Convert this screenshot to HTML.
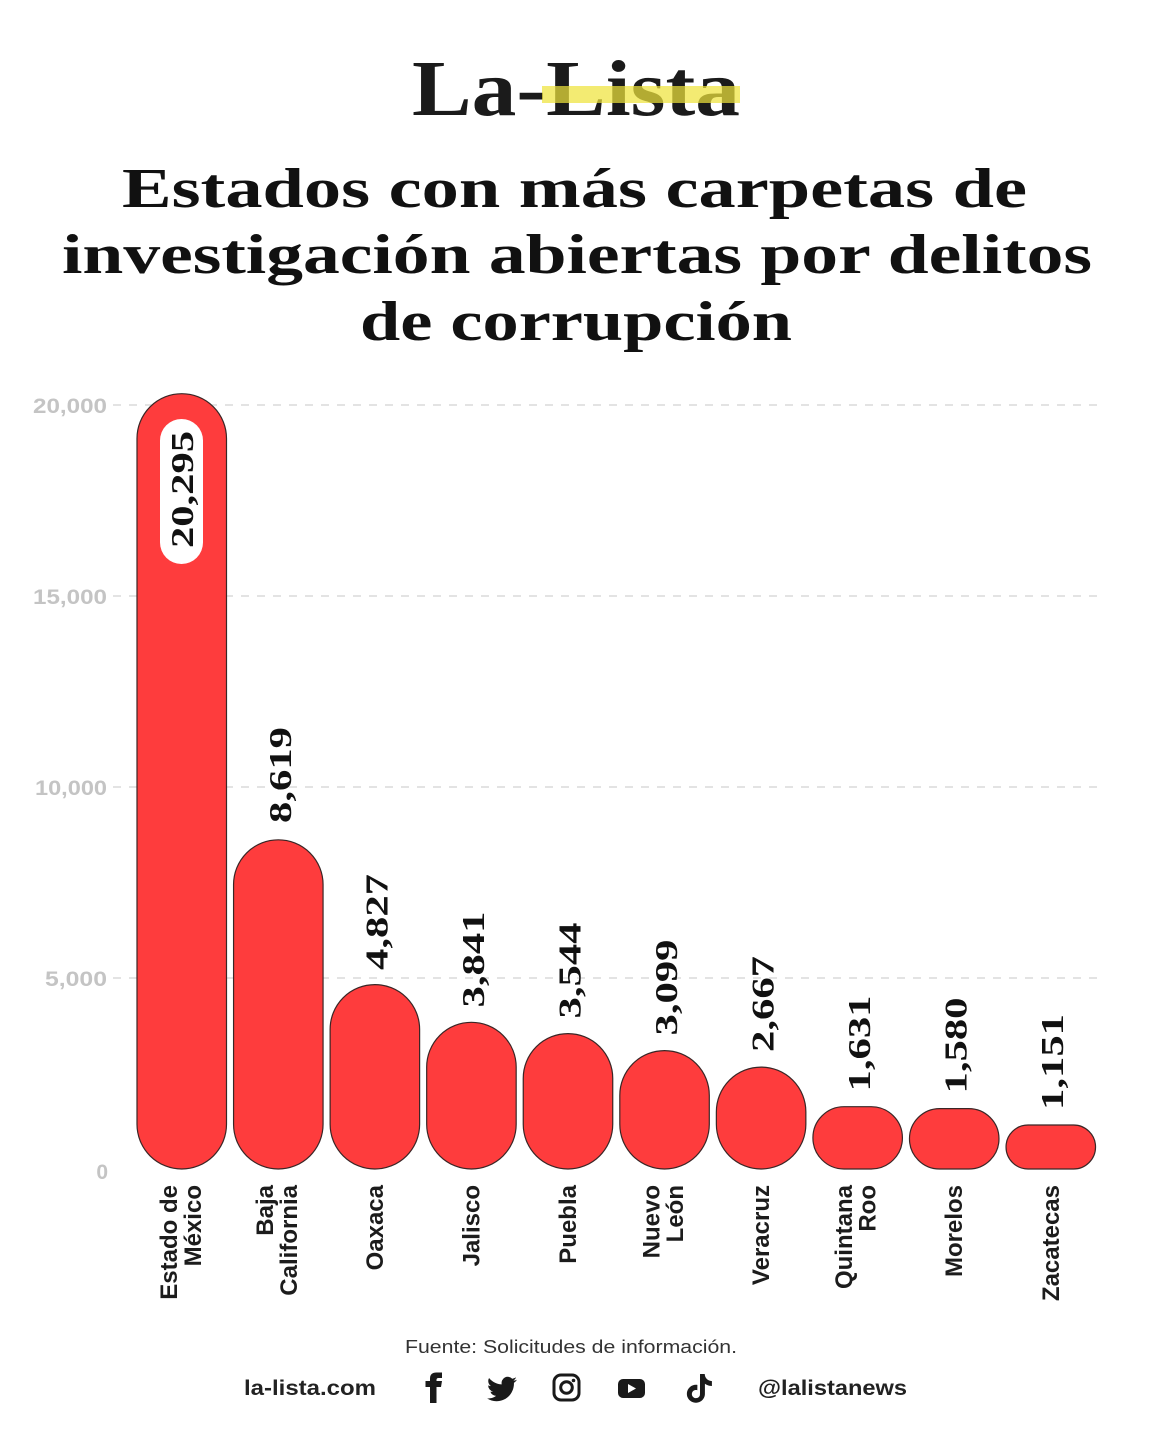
<!DOCTYPE html>
<html>
<head>
<meta charset="utf-8">
<style>
html,body{margin:0;padding:0;background:#fff;}
svg{display:block;}
.ser{font-family:"Liberation Serif",serif;font-weight:bold;}
.san{font-family:"Liberation Sans",sans-serif;}
</style>
</head>
<body>
<svg width="1152" height="1440" viewBox="0 0 1152 1440" xmlns="http://www.w3.org/2000/svg">
<rect width="1152" height="1440" fill="#fff"/>

<!-- Logo -->
<text class="ser" x="412" y="115" font-size="79" fill="#1b1b1b" textLength="328" lengthAdjust="spacingAndGlyphs">La-Lista</text>
<rect x="542" y="86" width="198" height="17" fill="#efe33c" opacity="0.72"/>

<!-- Title -->
<g class="ser" font-size="56" fill="#111">
<text x="122" y="207" textLength="905" lengthAdjust="spacingAndGlyphs">Estados con más carpetas de</text>
<text x="62" y="273" textLength="1030" lengthAdjust="spacingAndGlyphs">investigación abiertas por delitos</text>
<text x="360" y="340" textLength="432" lengthAdjust="spacingAndGlyphs">de corrupción</text>
</g>

<!-- Gridlines -->
<g stroke="#dadada" stroke-width="1.5" stroke-dasharray="8 8">
<line x1="113" y1="405" x2="1097" y2="405"/>
<line x1="113" y1="596" x2="1097" y2="596"/>
<line x1="113" y1="787" x2="1097" y2="787"/>
<line x1="113" y1="978" x2="1097" y2="978"/>
</g>

<!-- Y tick labels -->
<g class="san" font-size="21" font-weight="bold" fill="#c4c4c4" text-anchor="end">
<text x="107" y="413" textLength="74" lengthAdjust="spacingAndGlyphs">20,000</text>
<text x="107" y="604" textLength="74" lengthAdjust="spacingAndGlyphs">15,000</text>
<text x="107" y="795" textLength="72" lengthAdjust="spacingAndGlyphs">10,000</text>
<text x="107" y="986" textLength="62" lengthAdjust="spacingAndGlyphs">5,000</text>
<text x="108" y="1179">0</text>
</g>

<!-- Bars -->
<g fill="#fe3c3d" stroke="#3a2626" stroke-width="1.2">
<rect x="137" y="393.7" width="89.5" height="775.3" rx="44.75" ry="44.75"/>
<rect x="233.56" y="839.8" width="89.5" height="329.2" rx="44.75" ry="44.75"/>
<rect x="330.12" y="984.6" width="89.5" height="184.4" rx="44.75" ry="44.75"/>
<rect x="426.68" y="1022.3" width="89.5" height="146.7" rx="44.75" ry="44.75"/>
<rect x="523.24" y="1033.6" width="89.5" height="135.4" rx="44.75" ry="44.75"/>
<rect x="619.8" y="1050.6" width="89.5" height="118.4" rx="44.75" ry="44.75"/>
<rect x="716.36" y="1067.1" width="89.5" height="101.9" rx="44.75" ry="44.75"/>
<rect x="812.92" y="1106.7" width="89.5" height="62.3" rx="31.15" ry="31.15"/>
<rect x="909.48" y="1108.6" width="89.5" height="60.4" rx="30.2" ry="30.2"/>
<rect x="1006.04" y="1125" width="89.5" height="44" rx="22" ry="22"/>
</g>

<!-- First bar label pill -->
<rect x="160" y="419" width="43" height="145" rx="21.5" ry="21.5" fill="#fff"/>

<!-- Value labels -->
<g class="ser" font-size="32" fill="#111">
<text transform="translate(193,548) rotate(-90)" textLength="117" lengthAdjust="spacingAndGlyphs">20,295</text>
<text transform="translate(291,823) rotate(-90)" textLength="96" lengthAdjust="spacingAndGlyphs">8,619</text>
<text transform="translate(387.5,970) rotate(-90)" textLength="96" lengthAdjust="spacingAndGlyphs">4,827</text>
<text transform="translate(484,1007.5) rotate(-90)" textLength="96" lengthAdjust="spacingAndGlyphs">3,841</text>
<text transform="translate(580.5,1018.5) rotate(-90)" textLength="96" lengthAdjust="spacingAndGlyphs">3,544</text>
<text transform="translate(677,1035.5) rotate(-90)" textLength="96" lengthAdjust="spacingAndGlyphs">3,099</text>
<text transform="translate(773.5,1052) rotate(-90)" textLength="96" lengthAdjust="spacingAndGlyphs">2,667</text>
<text transform="translate(870,1091.5) rotate(-90)" textLength="96" lengthAdjust="spacingAndGlyphs">1,631</text>
<text transform="translate(966.5,1093.5) rotate(-90)" textLength="96" lengthAdjust="spacingAndGlyphs">1,580</text>
<text transform="translate(1063,1110) rotate(-90)" textLength="96" lengthAdjust="spacingAndGlyphs">1,151</text>
</g>

<!-- Category labels -->
<g class="san" font-size="24" font-weight="bold" fill="#1c1c1c" text-anchor="end">
<text transform="translate(177,1185) rotate(-90)">Estado de</text>
<text transform="translate(201,1185) rotate(-90)">México</text>
<text transform="translate(273,1185) rotate(-90)">Baja</text>
<text transform="translate(297,1185) rotate(-90)">California</text>
<text transform="translate(383,1185) rotate(-90)">Oaxaca</text>
<text transform="translate(479.5,1185) rotate(-90)">Jalisco</text>
<text transform="translate(576,1185) rotate(-90)">Puebla</text>
<text transform="translate(659.5,1185) rotate(-90)">Nuevo</text>
<text transform="translate(683,1185) rotate(-90)">León</text>
<text transform="translate(769,1185) rotate(-90)">Veracruz</text>
<text transform="translate(852,1185) rotate(-90)">Quintana</text>
<text transform="translate(875.5,1185) rotate(-90)">Roo</text>
<text transform="translate(962,1185) rotate(-90)">Morelos</text>
<text transform="translate(1059,1185) rotate(-90)">Zacatecas</text>
</g>

<!-- Footer -->
<text class="san" x="405" y="1353" font-size="18" fill="#333" textLength="332" lengthAdjust="spacingAndGlyphs">Fuente:  Solicitudes de información.</text>
<text class="san" x="244" y="1395" font-size="21" font-weight="bold" fill="#222" textLength="132" lengthAdjust="spacingAndGlyphs">la-lista.com</text>
<text class="san" x="758" y="1395" font-size="21" font-weight="bold" fill="#222" textLength="149" lengthAdjust="spacingAndGlyphs">@lalistanews</text>

<!-- Icons -->
<g fill="#1a1a1a">
<path d="M430 1403 V1387 H425.5 V1381 H430 V1378.5 Q430 1372.5 436.5 1372.5 H442 V1378 H438.5 Q436.5 1378 436.5 1380 V1381 H442 L441 1387 H436.5 V1403 Z"/>
<path transform="translate(487,1374) scale(1.25)" d="M23.953 4.57a10 10 0 01-2.825.775 4.958 4.958 0 002.163-2.723c-.951.555-2.005.959-3.127 1.184a4.92 4.92 0 00-8.384 4.482C7.690 8.095 4.067 6.130 1.640 3.162a4.822 4.822 0 00-.666 2.475c0 1.710.870 3.213 2.188 4.096a4.904 4.904 0 01-2.228-.616v.06a4.923 4.923 0 003.946 4.827 4.996 4.996 0 01-2.212.085 4.936 4.936 0 004.604 3.417 9.867 9.867 0 01-6.102 2.105c-.39 0-.779-.023-1.17-.067a13.995 13.995 0 007.557 2.209c9.053 0 13.998-7.496 13.998-13.985 0-.21 0-.42-.015-.63A9.935 9.935 0 0024 4.59z"/>
<rect x="554" y="1375" width="25" height="25" rx="7" ry="7" fill="none" stroke="#1a1a1a" stroke-width="3"/>
<circle cx="566.5" cy="1387.5" r="5.8" fill="none" stroke="#1a1a1a" stroke-width="3"/>
<circle cx="573.5" cy="1380.5" r="1.8"/>
<rect x="618" y="1379" width="27" height="19" rx="5" ry="5"/>
<path d="M628 1384 L636 1388.5 L628 1393 Z" fill="#fff"/>
<path transform="translate(685,1374) scale(1.2)" d="M12.525.02c1.31-.02 2.61-.01 3.91-.02.08 1.53.63 3.09 1.75 4.17 1.12 1.11 2.7 1.62 4.24 1.79v4.03c-1.44-.05-2.89-.35-4.2-.97-.57-.26-1.1-.59-1.62-.93-.01 2.92.01 5.84-.02 8.75-.08 1.4-.54 2.79-1.35 3.94-1.31 1.92-3.58 3.17-5.910 3.21-1.43.08-2.86-.31-4.08-1.03-2.02-1.19-3.44-3.37-3.65-5.71-.02-.5-.03-1-.01-1.49.18-1.9 1.12-3.72 2.58-4.96 1.66-1.44 3.98-2.13 6.15-1.72.02 1.48-.04 2.96-.04 4.44-.99-.32-2.15-.23-3.02.37-.63.41-1.11 1.04-1.36 1.75-.21.51-.15 1.07-.14 1.61.24 1.64 1.82 3.02 3.5 2.87 1.12-.01 2.19-.66 2.77-1.61.19-.33.4-.67.41-1.06.1-1.79.06-3.57.07-5.36.01-4.03-.01-8.05.02-12.07z"/>
</g>
</svg>
</body>
</html>
